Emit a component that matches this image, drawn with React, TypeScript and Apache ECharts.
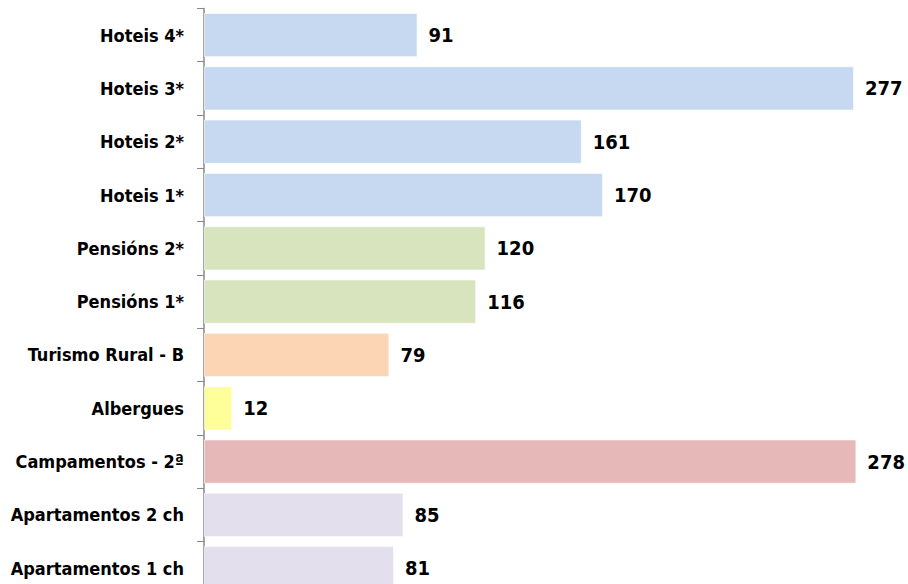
import React, { useEffect, useRef } from "react";
import * as echarts from "echarts";

const categories = [
  "Hoteis 4*",
  "Hoteis 3*",
  "Hoteis 2*",
  "Hoteis 1*",
  "Pensións 2*",
  "Pensións 1*",
  "Turismo Rural - B",
  "Albergues",
  "Campamentos - 2ª",
  "Apartamentos 2 ch",
  "Apartamentos 1 ch",
];
const values = [91, 277, 161, 170, 120, 116, 79, 12, 278, 85, 81];
const barColors = [
  "#C6D9F1",
  "#C6D9F1",
  "#C6D9F1",
  "#C6D9F1",
  "#D7E4BD",
  "#D7E4BD",
  "#FCD5B5",
  "#FFFF99",
  "#E6B9B8",
  "#E4DFEC",
  "#E4DFEC",
];

const FONT = "'DejaVu Sans Condensed', 'Liberation Sans Narrow', sans-serif";

export default function App() {
  const ref = useRef<HTMLDivElement>(null);
  useEffect(() => {
    if (!ref.current) return;
    const chart = echarts.init(ref.current, undefined, { renderer: "svg" });
    chart.setOption({
      animation: false,
      backgroundColor: "#ffffff",
      grid: { left: 204, top: 8.4, width: 706, height: 586.5, containLabel: false },
      xAxis: {
        type: "value",
        min: 0,
        max: 300,
        show: false,
      },
      yAxis: {
        type: "category",
        inverse: true,
        data: categories,
        axisLine: { show: true, lineStyle: { color: "#888888", width: 1.5 } },
        axisTick: { show: true, length: 7, lineStyle: { color: "#888888", width: 1 } },
        axisLabel: {
          margin: 20,
          color: "#000000",
          fontFamily: FONT,
          fontWeight: "bold",
          fontSize: 18,
        },
        splitLine: { show: false },
      },
      series: [
        {
          type: "bar",
          barCategoryGap: "17%",
          data: values.map((v, i) => ({
            value: v,
            itemStyle: { color: barColors[i], borderColor: "rgba(255,255,255,0.6)", borderWidth: 1 },
          })),
          label: {
            show: true,
            position: "right",
            distance: 11,
            color: "#000000",
            fontFamily: FONT,
            fontWeight: "bold",
            fontSize: 20,
          },
        },
      ],
    });
    return () => chart.dispose();
  }, []);
  return (
    <div style={{ position: "fixed", left: 0, top: 0, width: 908, height: 584, overflow: "hidden" }}>
      <div ref={ref} style={{ width: 908, height: 610 }} />
    </div>
  );
}
